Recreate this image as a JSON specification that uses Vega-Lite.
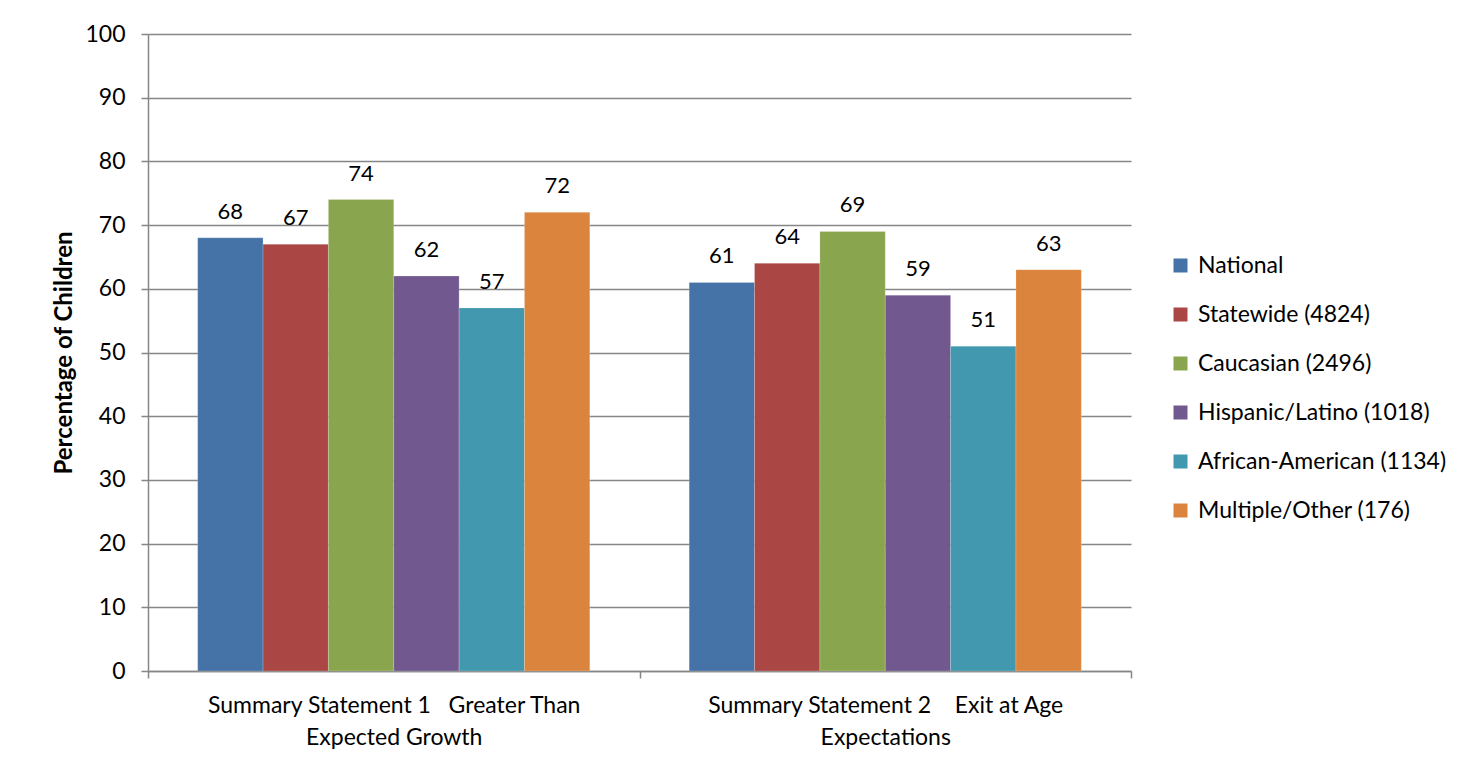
{
  "$schema": "https://vega.github.io/schema/vega-lite/v6.json",
  "width": 983,
  "height": 637,
  "autosize": {"type": "none"},
  "padding": {"left": 148, "top": 34, "right": 335, "bottom": 94},
  "background": "white",
  "config": {
    "font": "Lato",
    "view": {"stroke": null},
    "axis": {"domainColor": "#868686", "tickColor": "#868686", "gridColor": "#868686", "domainWidth": 1.5, "tickWidth": 1.5, "gridWidth": 1.5, "labelColor": "#000000", "titleColor": "#000000"}
  },
  "data": {
    "values": [
      {"cat": "Summary Statement 1\u00a0\u00a0\u00a0Greater Than|Expected Growth", "group": "National", "value": 68},
      {"cat": "Summary Statement 1\u00a0\u00a0\u00a0Greater Than|Expected Growth", "group": "Statewide (4824)", "value": 67},
      {"cat": "Summary Statement 1\u00a0\u00a0\u00a0Greater Than|Expected Growth", "group": "Caucasian (2496)", "value": 74},
      {"cat": "Summary Statement 1\u00a0\u00a0\u00a0Greater Than|Expected Growth", "group": "Hispanic/Latino (1018)", "value": 62},
      {"cat": "Summary Statement 1\u00a0\u00a0\u00a0Greater Than|Expected Growth", "group": "African-American (1134)", "value": 57},
      {"cat": "Summary Statement 1\u00a0\u00a0\u00a0Greater Than|Expected Growth", "group": "Multiple/Other (176)", "value": 72},
      {"cat": "Summary Statement 2\u00a0\u00a0\u00a0\u00a0Exit at Age|Expectations", "group": "National", "value": 61},
      {"cat": "Summary Statement 2\u00a0\u00a0\u00a0\u00a0Exit at Age|Expectations", "group": "Statewide (4824)", "value": 64},
      {"cat": "Summary Statement 2\u00a0\u00a0\u00a0\u00a0Exit at Age|Expectations", "group": "Caucasian (2496)", "value": 69},
      {"cat": "Summary Statement 2\u00a0\u00a0\u00a0\u00a0Exit at Age|Expectations", "group": "Hispanic/Latino (1018)", "value": 59},
      {"cat": "Summary Statement 2\u00a0\u00a0\u00a0\u00a0Exit at Age|Expectations", "group": "African-American (1134)", "value": 51},
      {"cat": "Summary Statement 2\u00a0\u00a0\u00a0\u00a0Exit at Age|Expectations", "group": "Multiple/Other (176)", "value": 63}
    ]
  },
  "encoding": {
    "x": {
      "field": "cat", "type": "nominal", "sort": null,
      "scale": {"paddingInner": 0, "paddingOuter": 0},
      "axis": {"title": null, "labelAngle": 0, "labelExpr": "datum.value ? split(datum.value, '|') : ''", "labelFontSize": 23, "labelLineHeight": 32, "labelPadding": 16, "labelLimit": 600, "tickSize": 7, "tickBand": "extent"}
    },
    "xOffset": {
      "field": "group", "type": "nominal",
      "sort": ["National", "Statewide (4824)", "Caucasian (2496)", "Hispanic/Latino (1018)", "African-American (1134)", "Multiple/Other (176)"],
      "scale": {"paddingInner": 0, "paddingOuter": 0.76}
    },
    "y": {
      "field": "value", "type": "quantitative",
      "scale": {"domain": [0, 100]},
      "axis": {"title": "Percentage of Children", "titleFontSize": 24, "titleFontWeight": "bold", "titlePadding": 8, "values": [0,10,20,30,40,50,60,70,80,90,100], "labelOverlap": false, "labelFontSize": 23, "labelPadding": 16, "tickSize": 7, "grid": true}
    }
  },
  "layer": [
    {
      "mark": {"type": "bar", "stroke": "white", "strokeWidth": 0.5, "strokeOpacity": 0.4},
      "encoding": {
        "color": {
          "field": "group", "type": "nominal",
          "sort": ["National", "Statewide (4824)", "Caucasian (2496)", "Hispanic/Latino (1018)", "African-American (1134)", "Multiple/Other (176)"],
          "scale": {"domain": ["National", "Statewide (4824)", "Caucasian (2496)", "Hispanic/Latino (1018)", "African-American (1134)", "Multiple/Other (176)"], "range": ["#4572A7", "#AA4643", "#89A54E", "#71588F", "#4198AF", "#DB843D"]},
          "legend": {"title": null, "orient": "none", "legendX": 1021, "legendY": 220, "symbolType": "square", "symbolSize": 196, "symbolStrokeWidth": 0, "labelFontSize": 23, "labelLimit": 400, "rowPadding": 25, "labelOffset": 6}
        }
      }
    },
    {
      "mark": {"type": "text", "baseline": "bottom", "dy": -14, "fontSize": 22, "color": "#000000"},
      "encoding": {"text": {"field": "value", "type": "quantitative"}}
    }
  ]
}
